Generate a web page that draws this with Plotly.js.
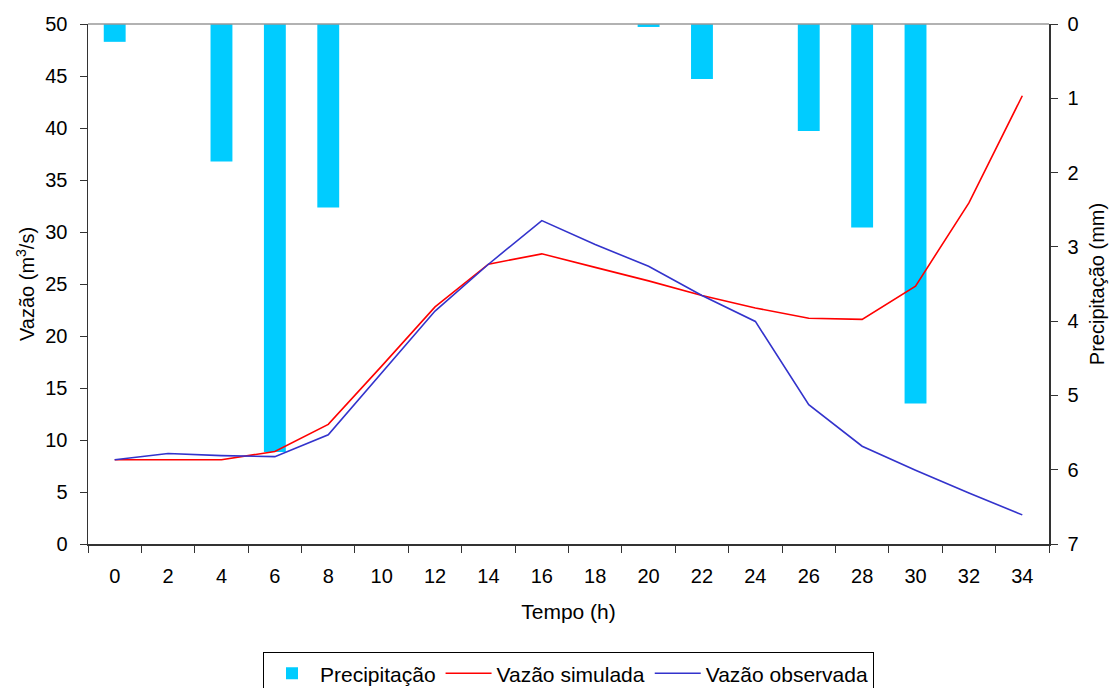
<!DOCTYPE html>
<html>
<head>
<meta charset="utf-8">
<script src="https://cdn.plot.ly/plotly-3.0.1.min.js"></script>
<style>html,body{margin:0;padding:0;background:#fff;}#chart{width:1113px;height:688px;}</style>
</head>
<body>
<div id="chart"></div>
<script>
const tempo = ["0","2","4","6","8","10","12","14","16","18","20","22","24","26","28","30","32","34"];
const precipitacao = [0.24, 0, 1.85, 5.76, 2.47, 0, 0, 0, 0, 0, 0.04, 0.74, 0, 1.44, 2.74, 5.11, 0, 0];
const vazaoSimulada = [8.1, 8.1, 8.1, 8.9, 11.5, 17.1, 22.8, 26.9, 27.9, 26.6, 25.3, 23.9, 22.7, 21.7, 21.6, 24.8, 32.8, 43.1];
const vazaoObservada = [8.1, 8.7, 8.5, 8.4, 10.5, 16.4, 22.4, 26.9, 31.1, 28.8, 26.7, 23.9, 21.4, 13.4, 9.4, 7.1, 4.9, 2.8];

const font = {family: "Liberation Sans, Arial, sans-serif", size: 20, color: "#000"};

const traces = [
  {type: "bar", name: "Precipitação", x: tempo, y: precipitacao, yaxis: "y",
   marker: {color: "#00CCFF", line: {width: 0}}, base: 0},
  {type: "scatter", mode: "lines", name: "Vazão simulada", x: tempo, y: vazaoSimulada, yaxis: "y2",
   line: {color: "#FF0000", width: 1.6}},
  {type: "scatter", mode: "lines", name: "Vazão observada", x: tempo, y: vazaoObservada, yaxis: "y2",
   line: {color: "#3333CC", width: 1.6}}
];

const layout = {
  width: 1113, height: 688,
  margin: {l: 88, r: 64, t: 24, b: 144, pad: 0, autoexpand: false},
  paper_bgcolor: "#fff", plot_bgcolor: "#fff",
  font: font,
  showlegend: true,
  bargap: 0.59,
  xaxis: {
    type: "category", tickson: "boundaries", ticks: "outside", ticklen: 7, tickcolor: "#333",
    showline: true, linecolor: "#333", linewidth: 1.5, showgrid: false, zeroline: false,
    tickfont: {size: 20}, ticklabelstandoff: 13, automargin: false,
    title: {text: "Tempo (h)", font: {size: 21}, standoff: 19}
  },
  yaxis: {
    range: [7, 0], side: "right", dtick: 1, ticks: "outside", ticklen: 7, tickcolor: "#333",
    showline: true, linecolor: "#333", linewidth: 1.5, showgrid: false, zeroline: false,
    tickfont: {size: 20}, ticklabelstandoff: 6, automargin: false,
    title: {text: "Precipitação (mm)", font: {size: 20}, standoff: 12}
  },
  yaxis2: {
    range: [0, 50], side: "left", overlaying: "y", dtick: 5, ticks: "outside", ticklen: 7, tickcolor: "#333",
    showline: true, linecolor: "#333", linewidth: 1.5, showgrid: false, zeroline: false,
    tickfont: {size: 20}, ticklabelstandoff: 8, automargin: false,
    title: {text: "Vazão (m<sup>3</sup>/s)", font: {size: 20}, standoff: 5}
  },
  shapes: [
    {type: "line", xref: "paper", yref: "paper", x0: 0, x1: 1, y0: 1, y1: 1,
     line: {color: "#999", width: 1.5}}
  ],
  legend: {
    orientation: "h", x: 0.5, xanchor: "center", y: -0.208, yanchor: "top",
    bordercolor: "#000", borderwidth: 1, font: {size: 21}, traceorder: "normal",
    itemwidth: 46
  }
};

Plotly.newPlot("chart", traces, layout, {staticPlot: true, displayModeBar: false});
</script>
</body>
</html>
